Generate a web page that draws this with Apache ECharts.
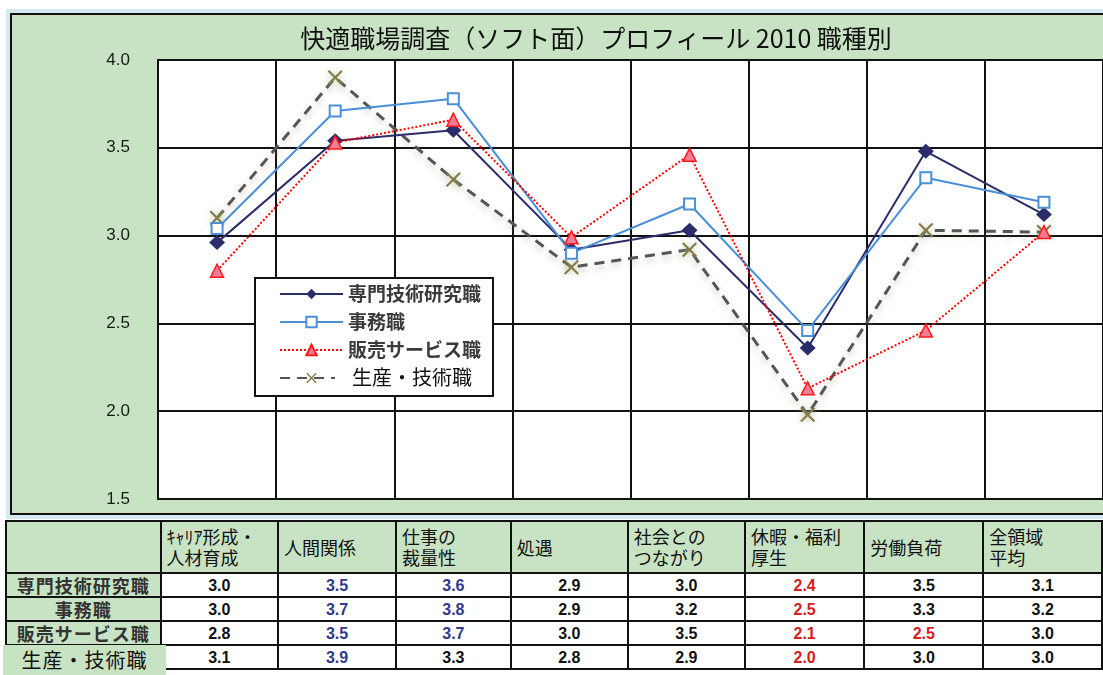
<!DOCTYPE html>
<html>
<head>
<meta charset="utf-8">
<script src="https://cdn.jsdelivr.net/npm/echarts@6/dist/echarts.min.js"></script>
<style>
  body { margin: 0; width: 1103px; height: 675px; overflow: hidden; background: #fff; position: relative; }
  #frame {
    position: absolute; left: 10px; top: 13px; width: 1110px; height: 498px;
    background: #c8e3c4; border: 2px solid #111; outline: 4px solid #d2eaf3;
  }
  #chart { position: absolute; left: 0; top: 0; width: 1103px; height: 520px; }
  #tbl {
    position: absolute; left: 5px; top: 520px; border-collapse: collapse; table-layout: fixed;
    font-family: "Noto Sans CJK JP", sans-serif; color: #111;
  }
  #tbl td { border: 2px solid #111; padding: 0; overflow: hidden; white-space: nowrap; }
  #tbl tr.head td { background: #c8e3c4; text-align: left; padding-left: 5px; font-size: 18px; line-height: 21px; height: 50px; }
  #tbl tr.row td { height: 22px; line-height: 21px; }
  #tbl td.name { background: #c8e3c4; text-align: center; font-size: 18px; font-weight: bold; color: #333; letter-spacing: 1px; }
  #tbl td.val { text-align: center; font-family: "Liberation Sans", Arial, sans-serif; font-weight: bold; font-size: 16px; }
  #lastName {
    position: absolute; left: 3px; top: 645px; width: 163px; height: 30px; background: #c8e3c4;
    font-family: "Noto Sans CJK JP", sans-serif; font-size: 20px; line-height: 30px; text-align: center;
    color: #111; letter-spacing: 1px;
  }
</style>
</head>
<body>
<div id="frame"></div>
<div id="chart"></div>
<table id="tbl"></table>
<div id="lastName"></div>
<script>
// 項目（表の見出し）
var categories = ['ｷｬﾘｱ形成・\n人材育成', '人間関係', '仕事の\n裁量性', '処遇', '社会との\nつながり', '休暇・福利\n厚生', '労働負荷', '全領域\n平均'];
// 職種
var jobNames = ['専門技術研究職', '事務職', '販売サービス職', '生産・技術職'];
// 各職種の得点
var senmon = [2.96, 3.54, 3.60, 2.92, 3.03, 2.36, 3.48, 3.12];
var jimu = [3.04, 3.71, 3.78, 2.90, 3.18, 2.46, 3.33, 3.19];
var hanbai = [2.80, 3.53, 3.66, 2.99, 3.46, 2.13, 2.46, 3.02];
var seisan = [3.10, 3.90, 3.32, 2.82, 2.92, 1.98, 3.03, 3.02];
// 縦軸
var yTicks = [1.5, 2.0, 2.5, 3.0, 3.5, 4.0];

var allRows = [senmon, jimu, hanbai, seisan];

// グラフ
var chart = echarts.init(document.getElementById('chart'));
var crossPath = 'path://M0,1L1,0L5,4L9,0L10,1L6,5L10,9L9,10L5,6L1,10L0,9L4,5Z';

chart.setOption({
  animation: false,
  title: {
    text: '快適職場調査（ソフト面）プロフィール 2010 職種別',
    left: 591, top: 21, textAlign: 'center',
    textStyle: { fontSize: 25, fontWeight: 'normal', color: '#111', fontFamily: 'Noto Sans CJK JP' }
  },
  legend: {
    orient: 'vertical', left: 255, top: 278,
    padding: [6, 12, 8, 24],
    itemWidth: 63, itemHeight: 13, itemGap: 8,
    backgroundColor: '#fff', borderColor: '#111', borderWidth: 2,
    textStyle: { fontSize: 19, fontWeight: 'bold', color: '#3a3a3a', fontFamily: 'Noto Sans CJK JP', lineHeight: 20 },
    data: jobNames
  },
  grid: { left: 158, top: 60, width: 949, height: 439, show: true, backgroundColor: '#fff', borderColor: '#111', borderWidth: 2 },
  xAxis: {
    type: 'category', data: categories, boundaryGap: true,
    axisLabel: { show: false }, axisTick: { show: false },
    axisLine: { lineStyle: { color: '#111', width: 2 } },
    splitLine: { show: true, lineStyle: { color: '#111', width: 2 } }
  },
  yAxis: {
    type: 'value', min: yTicks[0], max: yTicks[yTicks.length - 1], interval: 0.5,
    axisLine: { show: true, lineStyle: { color: '#111', width: 2 } }, axisTick: { show: false },
    axisLabel: { margin: 28, fontSize: 17, color: '#1a1a1a', fontFamily: 'Liberation Sans', formatter: function (v) { return v.toFixed(1); } },
    splitLine: { lineStyle: { color: '#111', width: 2 } }
  },
  series: [
    {
      name: jobNames[3], type: 'line', data: seisan, z: 2,
      symbol: crossPath, symbolSize: 15, symbolKeepAspect: true,
      lineStyle: { color: '#555', width: 3, type: [10, 7], shadowColor: 'rgba(150,140,110,0.45)', shadowBlur: 6, shadowOffsetY: 4 },
      itemStyle: { color: '#857a48', shadowColor: 'rgba(170,200,150,0.8)', shadowBlur: 6 }
    },
    {
      name: jobNames[0], type: 'line', data: senmon, z: 3,
      symbol: 'diamond', symbolSize: [16, 15],
      lineStyle: { color: '#2b2d6b', width: 2 },
      itemStyle: { color: '#2b2d6b' }
    },
    {
      name: jobNames[1], type: 'line', data: jimu, z: 4,
      symbol: 'rect', symbolSize: 11,
      lineStyle: { color: '#4a8fd8', width: 2 },
      itemStyle: { color: '#fff', borderColor: '#4a8fd8', borderWidth: 2 }
    },
    {
      name: jobNames[2], type: 'line', data: hanbai, z: 5,
      symbol: 'triangle', symbolSize: 13,
      lineStyle: { color: '#ff0000', width: 2, type: 'dotted' },
      itemStyle: { color: '#f07d95', borderColor: '#ff1a1a', borderWidth: 1.5 }
    }
  ],
  graphic: [
    // 凡例の最後の行は白地で上書きされている
    { type: 'rect', z: 100, shape: { x: 335, y: 363, width: 145, height: 30 }, style: { fill: '#fff' } },
    { type: 'text', z: 101, x: 352, y: 377, style: { text: jobNames[3], fontSize: 20, fill: '#111', fontFamily: 'Noto Sans CJK JP', verticalAlign: 'middle' } }
  ]
});

// 表
var widths = [155, 118, 119, 116, 119, 118, 120, 120, 120];
var html = '<colgroup>' + widths.map(function (w) { return '<col style="width:' + w + 'px">'; }).join('') + '</colgroup>';
html += '<tr class="head"><td></td>' + categories.map(function (c) { return '<td>' + c.replace('\n', '<br>') + '</td>'; }).join('') + '</tr>';
allRows.forEach(function (row, r) {
  html += '<tr class="row"><td class="name">' + (r < 3 ? jobNames[r] : '') + '</td>';
  row.forEach(function (v, i) {
    var s = v.toFixed(1);
    var color = '#111';
    if (parseFloat(s) <= 2.5) color = '#d42020';
    else if ((i === 1 || i === 2) && parseFloat(s) >= 3.5) color = '#2e3a8c';
    html += '<td class="val" style="color:' + color + '">' + s + '</td>';
  });
  html += '</tr>';
});
document.getElementById('tbl').innerHTML = html;
document.getElementById('lastName').textContent = jobNames[3];
</script>
</body>
</html>
